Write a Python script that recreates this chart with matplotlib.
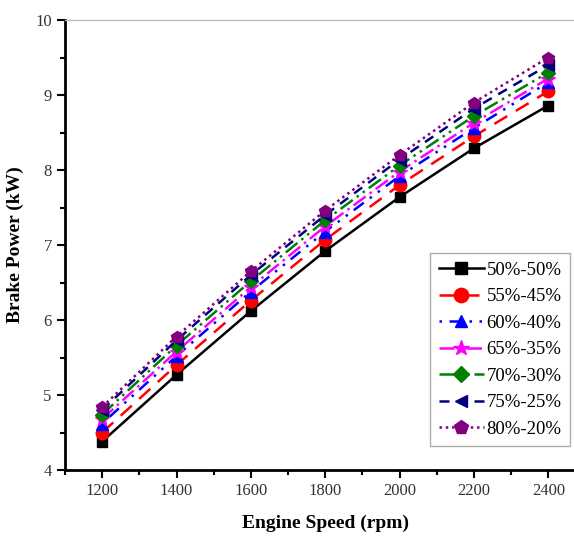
import matplotlib
matplotlib.use("Agg")
import matplotlib.pyplot as plt
from matplotlib.ticker import MultipleLocator

speed = [1200, 1400, 1600, 1800, 2000, 2200, 2400]
labels = ["50%-50%", "55%-45%", "60%-40%", "65%-35%", "70%-30%", "75%-25%", "80%-20%"]
s50 = [4.38, 5.27, 6.12, 6.92, 7.64, 8.29, 8.86]
s55 = [4.50, 5.40, 6.26, 7.07, 7.80, 8.45, 9.05]
s60 = [4.62, 5.52, 6.38, 7.18, 7.92, 8.56, 9.17]
s65 = [4.68, 5.58, 6.44, 7.25, 7.98, 8.63, 9.22]
s70 = [4.74, 5.66, 6.52, 7.33, 8.06, 8.72, 9.30]
s75 = [4.80, 5.73, 6.60, 7.40, 8.14, 8.82, 9.40]
s80 = [4.84, 5.78, 6.65, 7.46, 8.20, 8.90, 9.50]
series = [s50, s55, s60, s65, s70, s75, s80]

plt.rcParams['font.family'] = ['Liberation Serif', 'DejaVu Serif']

colors = ['black', 'red', 'blue', 'magenta', 'green', 'navy', 'purple']
markers = ['s', 'o', '^', '*', 'D', '<', 'p']
styles = ['-', (0, (6, 4)), (0, (1, 3, 5, 3, 1, 3)), (0, (6, 2, 1, 2)), (0, (6, 2, 1, 2, 1, 2)), (0, (4, 3)), (0, (1, 1.5))]
msizes = [7, 9, 8, 10, 7, 8, 9]

fig = plt.figure(figsize=(5.74, 5.36), dpi=100)
ax = fig.add_axes([65/574, 66/536, 520.5/574, 450/536])

for y, lab, c, m, ls, ms in zip(series, labels, colors, markers, styles, msizes):
    ax.plot(speed, y, color=c, marker=m, linestyle=ls, linewidth=1.8, markersize=ms, label=lab)

ax.set_xlim(1100, 2500)
ax.set_ylim(4, 10)
ax.set_xticks([1200, 1400, 1600, 1800, 2000, 2200, 2400])
ax.xaxis.set_minor_locator(MultipleLocator(100))
ax.yaxis.set_major_locator(MultipleLocator(1))
ax.yaxis.set_minor_locator(MultipleLocator(0.5))
ax.tick_params(which='major', direction='out', length=6, width=1.5, labelsize=12, colors='black', labelcolor='#333333')
ax.tick_params(which='minor', direction='out', length=3.5, width=1.5)
ax.spines['left'].set_linewidth(2)
ax.spines['bottom'].set_linewidth(2)
ax.spines['top'].set_color('#bbbbbb')
ax.spines['top'].set_linewidth(1)
ax.spines['right'].set_color('#bbbbbb')

ax.set_xlabel('Engine Speed (rpm)', fontsize=14, fontweight='bold', labelpad=11)
ax.set_ylabel('Brake Power (kW)', fontsize=14, fontweight='bold', labelpad=8)

leg = ax.legend(loc='lower right', bbox_to_anchor=(505/520.5, 24/450), fontsize=13.5,
                frameon=True, fancybox=False, edgecolor='#999999', handlelength=2.4,
                handletextpad=0.15, borderpad=0.45, labelspacing=0.5, borderaxespad=0,
                markerscale=1.15)
leg.get_frame().set_linewidth(1)

fig.savefig('out.png', dpi=100)
